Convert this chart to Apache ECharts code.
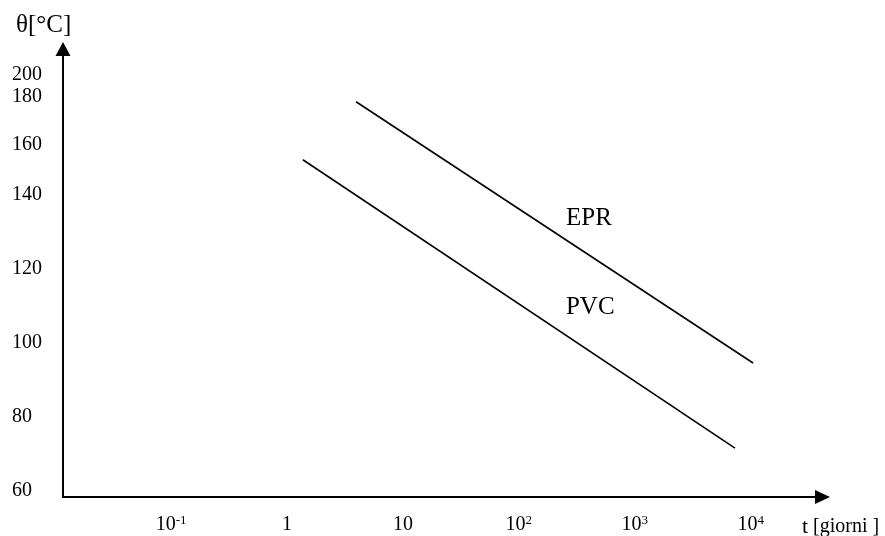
<!DOCTYPE html>
<html>
<head>
<meta charset="utf-8">
<script src="https://cdn.jsdelivr.net/npm/echarts@6/dist/echarts.min.js"></script>
<style>html,body{margin:0;padding:0;background:#fff}#c{width:885px;height:536px}</style>
</head>
<body>
<div id="c"></div>
<script>
// ---- data ----
const seriesNames = ['EPR', 'PVC'];
const eprDays = [3.94, 10490];
const eprTemp = [178.0, 94.6];
const pvcDays = [1.37, 7330];
const pvcTemp = [154.1, 71.6];
const xTickValues = [0.1, 1, 10, 100, 1000, 10000];
const yTickTemps = [60, 80, 100, 120, 140, 160, 180, 200];
// the figure's temperature axis is not linear: scale value of each tick
const yTickScale = [60, 80, 100, 120, 140, 153.5, 166.5, 172.4];
const labelDays = [255, 255];
const labelTemp = [133.8, 109.5];

function toScale(T) {
  for (let i = 0; i < yTickTemps.length - 1; i++) {
    const a = yTickTemps[i], b = yTickTemps[i + 1];
    if (T <= b || i === yTickTemps.length - 2) {
      return yTickScale[i] + (T - a) / (b - a) * (yTickScale[i + 1] - yTickScale[i]);
    }
  }
}
function pts(days, temps) { return days.map((d, i) => [d, toScale(temps[i])]); }

const font = '"Liberation Serif", "Times New Roman", serif';
const chart = echarts.init(document.getElementById('c'));
chart.setOption({
  animation: false,
  backgroundColor: '#fff',
  title: [
    { text: 'θ[°C]', left: 11, top: 8, textStyle: { fontFamily: font, fontSize: 25, fontWeight: 'normal', color: '#000' } },
    { text: '{t|t} {g|[giorni ]}', left: 797, top: 511,
      textStyle: { fontWeight: 'normal', rich: {
        t: { fontFamily: font, fontSize: 22, fontWeight: 'normal', color: '#000', lineHeight: 22 },
        g: { fontFamily: font, fontSize: 20, fontWeight: 'normal', color: '#000', lineHeight: 22 } } } }
  ],
  grid: { left: 63, right: 62.5, top: 49, bottom: 39 },
  xAxis: {
    type: 'log', logBase: 10, min: 0.011668, max: 41687,
    axisLine: { lineStyle: { color: '#000', width: 2 }, symbol: ['none', 'triangle'], symbolSize: [14, 15] },
    axisTick: { show: false }, splitLine: { show: false },
    axisLabel: {
      customValues: xTickValues, margin: 17, color: '#000',
      formatter: function (v) {
        const e = Math.round(Math.log10(v));
        if (e === 0) return '{b|1}';
        if (e === 1) return '{b|10}';
        return '{b|10}{s|' + e + '}';
      },
      rich: {
        b: { fontFamily: font, fontSize: 20, lineHeight: 22, color: '#000' },
        s: { fontFamily: font, fontSize: 13, lineHeight: 11, verticalAlign: 'top', color: '#000' }
      }
    }
  },
  yAxis: {
    type: 'value', min: 58.38, max: 179.46,
    axisLine: { show: true, lineStyle: { color: '#000', width: 2 }, symbol: ['none', 'triangle'], symbolSize: [15, 14] },
    axisTick: { show: false }, splitLine: { show: false },
    axisLabel: {
      customValues: yTickScale, align: 'left', margin: 51, color: '#000',
      fontFamily: font, fontSize: 20,
      formatter: function (v) {
        let best = 0;
        yTickScale.forEach((s, i) => { if (Math.abs(s - v) < Math.abs(yTickScale[best] - v)) best = i; });
        return String(yTickTemps[best]);
      }
    }
  },
  series: [
    { name: seriesNames[0], type: 'line', data: pts(eprDays, eprTemp), showSymbol: false, symbol: 'none',
      lineStyle: { color: '#000', width: 1.6 },
      markPoint: { symbol: 'circle', symbolSize: 0, data: [{ coord: [labelDays[0], toScale(labelTemp[0])] }],
        label: { show: true, position: 'right', distance: 0, formatter: seriesNames[0], fontFamily: font, fontSize: 25, color: '#000' } } },
    { name: seriesNames[1], type: 'line', data: pts(pvcDays, pvcTemp), showSymbol: false, symbol: 'none',
      lineStyle: { color: '#000', width: 1.6 },
      markPoint: { symbol: 'circle', symbolSize: 0, data: [{ coord: [labelDays[1], toScale(labelTemp[1])] }],
        label: { show: true, position: 'right', distance: 0, formatter: seriesNames[1], fontFamily: font, fontSize: 25, color: '#000' } } }
  ]
});
</script>
</body>
</html>
